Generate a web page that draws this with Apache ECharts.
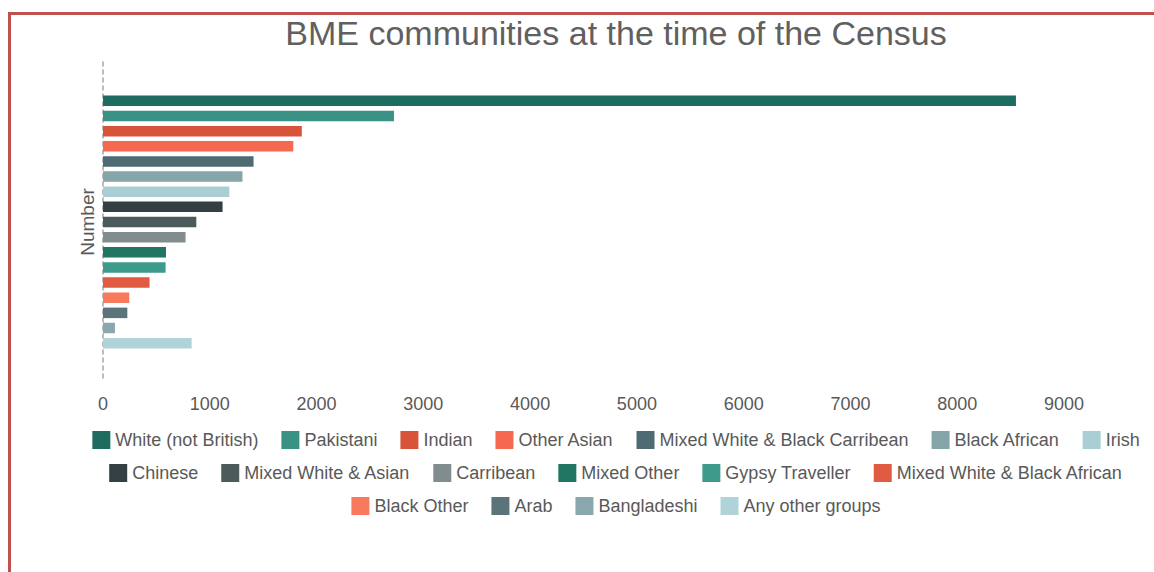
<!DOCTYPE html>
<html>
<head>
<meta charset="utf-8">
<script src="https://cdn.jsdelivr.net/npm/echarts@6/dist/echarts.min.js"></script>
<style>
html,body{margin:0;padding:0;background:#fff;overflow:hidden;width:1154px;height:572px;}
#frame{position:absolute;left:8px;top:12px;width:1200px;height:620px;border:3px solid #c0504d;box-sizing:border-box;}
#chart{position:absolute;left:0;top:0;width:1232px;height:572px;}
</style>
</head>
<body>
<div id="frame"></div>
<div id="chart"></div>
<script>
var chartTitle = 'BME communities at the time of the Census';
var axisName = 'Number';
var groups = ['White (not British)','Pakistani','Indian','Other Asian','Mixed White & Black Carribean','Black African','Irish',
  'Chinese','Mixed White & Asian','Carribean','Mixed Other','Gypsy Traveller','Mixed White & Black African',
  'Black Other','Arab','Bangladeshi','Any other groups'];
var counts = [8550, 2725, 1862, 1782, 1410, 1306, 1183, 1120, 874, 773, 590, 586, 436, 246, 228, 112, 830];
var xTicks = [0, 1000, 2000, 3000, 4000, 5000, 6000, 7000, 8000, 9000];
var palette = ['#1e6b5f','#3a9284','#d9533b','#f4694f','#4e6b73','#85a5a9','#a9cfd5',
  '#333f43','#4b5a5b','#808c8d','#217563','#3e9a8a','#e15b43',
  '#f87a5d','#5a7479','#8aa7ae','#afd3d8'];
var legendRows = [groups.slice(0,7), groups.slice(7,13), groups.slice(13)];

var chart = echarts.init(document.getElementById('chart'), null, {renderer:'svg'});
var font = '"Liberation Sans", Arial, sans-serif';
var txt = '#595959';
var series = groups.map(function(g, i){
  return {
    name: g, type: 'bar', data: [counts[i]],
    itemStyle: {color: palette[i]},
    barGap: '44%', barCategoryGap: '21%'
  };
});
var legendTops = [426, 459, 492];
chart.setOption({
  animation: false,
  color: palette,
  title: {text: chartTitle, left: 'center', top: 11,
    textStyle: {fontFamily: font, fontSize: 34, fontWeight: 'normal', color: '#606060'}},
  grid: {left: 103, right: 1232 - 1064, top: 62, height: 320, containLabel: false},
  legend: legendRows.map(function(r, k){
    return {data: r, left: 'center', top: legendTops[k], icon: 'rect',
      itemWidth: 18, itemHeight: 18, itemGap: 23,
      textStyle: {fontFamily: font, fontSize: 18, color: txt}};
  }),
  xAxis: {type: 'value', min: xTicks[0], max: xTicks[xTicks.length-1], interval: 1000,
    axisLine: {show: false}, axisTick: {show: false}, splitLine: {show: false},
    axisLabel: {fontFamily: font, fontSize: 18, color: txt, margin: 13,
      formatter: function(v){ return String(v); }}},
  yAxis: {type: 'category', data: [''], inverse: true,
    name: axisName, nameLocation: 'middle', nameRotate: 90, nameGap: 6,
    nameTextStyle: {fontFamily: font, fontSize: 19, color: txt},
    axisLine: {show: true, lineStyle: {color: '#a6a6a6', type: [4,4], width: 1.5}},
    axisTick: {show: false}, axisLabel: {show: false}},
  series: series
});
</script>
</body>
</html>
